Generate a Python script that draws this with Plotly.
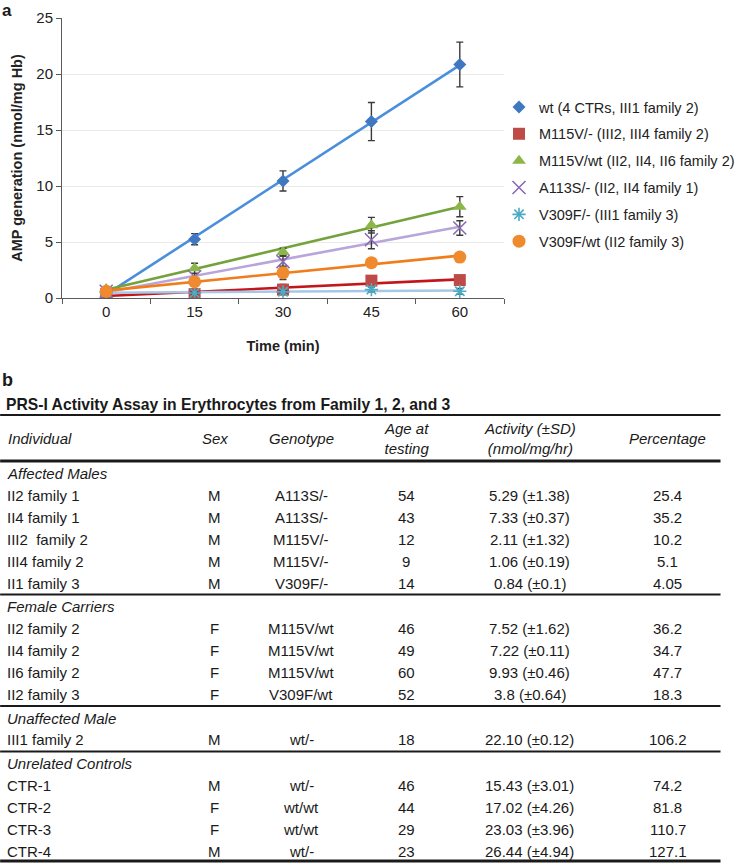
import numpy as np
import plotly.graph_objects as go

# ---------------- Panel a data ----------------
time_min = [0, 15, 30, 45, 60]
tick_labels = ["0", "15", "30", "45", "60"]

series_names = [
    "wt (4 CTRs, III1 family 2)",
    "M115V/- (III2, III4 family 2)",
    "M115V/wt (II2, II4, II6 family 2)",
    "A113S/- (II2, II4 family 1)",
    "V309F/- (III1 family 3)",
    "V309F/wt (II2 family 3)",
]
wt_vals = [0.5, 5.25, 10.45, 15.75, 20.85]
wt_err = [0.1, 0.5, 0.9, 1.7, 2.0]
m115v_hemi_vals = [0.35, 0.35, 0.75, 1.55, 1.6]
m115v_hemi_err = [0.1, 0.2, 0.45, 0.35, 0.35]
m115v_het_vals = [0.8, 2.65, 4.1, 6.5, 8.15]
m115v_het_err = [0.15, 0.45, 0.35, 0.7, 0.9]
a113s_vals = [0.6, 1.9, 3.25, 5.2, 6.25]
a113s_err = [0.1, 0.3, 0.5, 0.8, 0.65]
v309f_hemi_vals = [0.5, 0.45, 0.55, 0.75, 0.6]
v309f_hemi_err = [0.05, 0.1, 0.1, 0.2, 0.25]
v309f_het_vals = [0.6, 1.45, 2.25, 3.15, 3.65]
v309f_het_err = [0.1, 0.2, 0.6, 0.25, 0.4]

all_vals = [wt_vals, m115v_hemi_vals, m115v_het_vals, a113s_vals, v309f_hemi_vals, v309f_het_vals]
all_errs = [wt_err, m115v_hemi_err, m115v_het_err, a113s_err, v309f_hemi_err, v309f_het_err]

marker_colors = ["#3f78c0", "#be4b48", "#8cb54a", "#8a6bb0", "#4bacc6", "#f08a2e"]
line_colors = ["#4a8fdb", "#c2161b", "#74a23c", "#b8a5da", "#a7c7e7", "#f07c1c"]
symbols = ["diamond", "square", "triangle-up", "x-thin-open", "asterisk-open", "circle"]
sizes = [10, 12, 12, 13, 11, 13]

# ---------------- Panel b data ----------------
table_title = "PRS-I Activity Assay in Erythrocytes from Family 1, 2, and 3"
header_labels = ["Individual", "Sex", "Genotype", "Age at<br>testing",
                 "Activity (±SD)<br>(nmol/mg/hr)", "Percentage"]
group_names = ["Affected Males", "Female Carriers", "Unaffected Male", "Unrelated Controls"]
group_sizes = [5, 4, 1, 4]
individuals = ["II2 family 1", "II4 family 1", "III2  family 2", "III4 family 2", "II1 family 3",
               "II2 family 2", "II4 family 2", "II6 family 2", "II2 family 3",
               "III1 family 2",
               "CTR-1", "CTR-2", "CTR-3", "CTR-4"]
sexes = ["M", "M", "M", "M", "M", "F", "F", "F", "F", "M", "M", "F", "F", "M"]
genotypes = ["A113S/-", "A113S/-", "M115V/-", "M115V/-", "V309F/-",
             "M115V/wt", "M115V/wt", "M115V/wt", "V309F/wt",
             "wt/-", "wt/-", "wt/wt", "wt/wt", "wt/-"]
ages = ["54", "43", "12", "9", "14", "46", "49", "60", "52", "18", "46", "44", "29", "23"]
activities = ["5.29 (±1.38)", "7.33 (±0.37)", "2.11 (±1.32)", "1.06 (±0.19)", "0.84 (±0.1)",
              "7.52 (±1.62)", "7.22 (±0.11)", "9.93 (±0.46)", "3.8 (±0.64)",
              "22.10 (±0.12)",
              "15.43 (±3.01)", "17.02 (±4.26)", "23.03 (±3.96)", "26.44 (±4.94)"]
percentages = ["25.4", "35.2", "10.2", "5.1", "4.05", "36.2", "34.7", "47.7", "18.3",
               "106.2", "74.2", "81.8", "110.7", "127.1"]

FONT = "Liberation Sans, Arial, Helvetica, sans-serif"
W_FIG, H_FIG = 751, 864
L, R, T, B = 62, 505, 18, 298
PW, PH = R - L, B - T


def px(x):
    return (x - L) / PW


def py(y):
    return (B - y) / PH


fig = go.Figure()

# trendlines (linear fits, like the original spreadsheet chart)
for i in range(len(series_names)):
    coef = np.polyfit(time_min, all_vals[i], 1)
    xs = [time_min[0], time_min[-1]]
    fig.add_trace(go.Scatter(
        x=xs, y=list(np.polyval(coef, xs)), mode="lines",
        line=dict(color=line_colors[i], width=2.6),
        showlegend=False, hoverinfo="skip", legendgroup=f"g{i}"))

for i, name in enumerate(series_names):
    is_open = symbols[i].endswith("open")
    fig.add_trace(go.Scatter(
        x=time_min, y=all_vals[i], mode="markers", name=name,
        legendgroup=f"g{i}",
        marker=dict(symbol=symbols[i], size=sizes[i], color=marker_colors[i],
                    line=dict(color=marker_colors[i], width=1.6 if is_open else 0)),
        error_y=dict(type="data", array=all_errs[i], visible=True,
                     color="#3a3a3a", thickness=1.4, width=3.5)))

fig.update_xaxes(
    range=[-7.5, 67.5], tickmode="array", tickvals=time_min, ticktext=tick_labels,
    ticks="", showline=True, linecolor="#5a5a5a", linewidth=1, showgrid=False, zeroline=False,
    minor=dict(tickmode="linear", tick0=-7.5, dtick=15, ticks="outside", ticklen=5,
               tickcolor="#5a5a5a", tickwidth=1, showgrid=False),
    tickfont=dict(size=15, color="#222"), automargin=False,
    title=dict(text="<b>Time (min)</b>", font=dict(size=14.5, color="#222"), standoff=21))
fig.update_yaxes(
    range=[0, 25], tickmode="linear", tick0=0, dtick=5, ticks="outside", ticklen=5,
    tickcolor="#5a5a5a", showline=True, linecolor="#5a5a5a", linewidth=1,
    showgrid=True, gridcolor="#e9e9e9", gridwidth=1, zeroline=False,
    tickfont=dict(size=15, color="#222"), automargin=False,
    title=dict(text="<b>AMP generation (nmol/mg Hb)</b>", font=dict(size=14.5, color="#222"),
               standoff=10))

annotations = []
shapes = []


def add_text(x, y, text, size=15, anchor="center", bold=False, italic=False):
    t = text
    if italic:
        t = f"<i>{t}</i>"
    if bold:
        t = f"<b>{t}</b>"
    annotations.append(dict(x=px(x), y=py(y), xref="paper", yref="paper", text=t,
                            showarrow=False, xanchor=anchor, yanchor="middle",
                            font=dict(family=FONT, size=size, color="#1a1a1a")))


def add_rule(y, width):
    shapes.append(dict(type="line", xref="paper", yref="paper", x0=px(0), x1=px(722),
                       y0=py(y), y1=py(y), line=dict(color="#1a1a1a", width=width)))


# panel labels
add_text(0, 10, "a", size=17, anchor="left", bold=True)
add_text(0, 380, "b", size=18, anchor="left", bold=True)
add_text(4, 404, table_title, size=15.7, anchor="left", bold=True)

# table header
col_x = [5, 215, 302, 407, 531, 669]
col_anchor = ["left", "center", "center", "center", "center", "center"]
add_rule(415, 2.2)
for j, h in enumerate(header_labels):
    add_text(col_x[j] if j else 6, 438, h, anchor=col_anchor[j], italic=True)
add_rule(461, 3)

# table body
y = 461
k = 0
for gi, gname in enumerate(group_names):
    y += 12
    add_text(5, y, gname, anchor="left", italic=True)
    for r in range(group_sizes[gi]):
        y += 22
        cells = [individuals[k], sexes[k], genotypes[k], ages[k], activities[k], percentages[k]]
        for j, c in enumerate(cells):
            add_text(col_x[j], y, c, anchor=col_anchor[j])
        k += 1
    if gi < len(group_names) - 1:
        y += 11.5
        add_rule(y, 2.2)
    else:
        y += 9.5
        add_rule(y, 3)

fig.update_layout(
    width=W_FIG, height=H_FIG, autosize=False,
    margin=dict(l=L, r=W_FIG - R, t=T, b=H_FIG - B, pad=0),
    paper_bgcolor="white", plot_bgcolor="white",
    font=dict(family=FONT, color="#222"),
    showlegend=True,
    legend=dict(x=px(499), xanchor="left", y=py(91), yanchor="top",
                font=dict(size=14.5, color="#222"), bgcolor="rgba(0,0,0,0)",
                traceorder="grouped", tracegroupgap=5, itemwidth=30),
    annotations=annotations, shapes=shapes,
)

fig.write_html("out.html", config={"displayModeBar": False},
               post_script="document.body.style.margin='0';")
